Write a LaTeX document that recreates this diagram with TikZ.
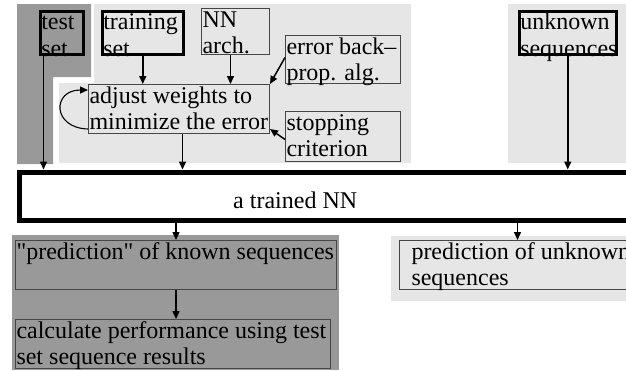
\documentclass[tikz,border=0pt]{standalone}
\usepackage{fontspec}
\setmainfont{Liberation Serif}[Ligatures=TeXOff]
\usetikzlibrary{arrows.meta}
\definecolor{darkbg}{RGB}{153,153,153}
\definecolor{lightbg}{RGB}{230,230,230}
\definecolor{boxline}{RGB}{70,70,70}
\newcommand{\boxtext}[3]{\parbox[t][#2pt][t]{#1pt}{\raggedright\strut #3}}
\tikzset{
  thinbox/.style={draw=boxline, line width=1pt, inner xsep=1pt, inner ysep=0pt, anchor=north west},
  thickbox/.style={thinbox, draw=black, line width=3.5pt},
  arr/.style={-{Triangle[length=8pt,width=7pt]}, line width=1.5pt},
}
\begin{document}
\begin{tikzpicture}[x=1pt, y=-1pt, font=\fontsize{24}{26.5}\selectfont]
      \useasboundingbox (0,0) rectangle (626,370);
      \clip (0,0) rectangle (626,370);
      \fill[darkbg] (17,4) -- (91,4) -- (91,77) -- (53,77) -- (53,164) -- (17,164) -- cycle;
      \fill[lightbg] (94,4) -- (411,4) -- (411,163) -- (59,163) -- (59,83) -- (94,83) -- cycle;
      \fill[lightbg] (508,4) rectangle (626,163);
      \fill[darkbg] (12,235) rectangle (339,370);
      \fill[lightbg] (391,236) rectangle (626,301);

      \node[thickbox] (test) at (38.5,9.5) {\boxtext{41}{43}{test\\set}};
      \node[thickbox] (train) at (100.5,9.5) {\boxtext{79}{43}{training\\set}};
      \node[thinbox] (arch) at (201,8) {\boxtext{66}{46}{NN\\arch.}};
      \node[thinbox] (error) at (285,35) {\boxtext{113}{48}{error back\textendash\\prop. alg.}};
      \node[thinbox] (adjust) at (88,84) {\boxtext{179}{49}{adjust weights to\\minimize the error}};
      \node[thinbox] (stop) at (285,111) {\boxtext{113}{50}{stopping\\criterion}};
      \node[thickbox] (unknown) at (517.5,9.5) {\boxtext{95}{43}{unknown\\sequences}};
      \node[draw, line width=5pt, inner sep=0pt, minimum width=640pt, minimum height=48pt, anchor=north west] (nn) at (16.5,169.5) {};
      \node[anchor=base west, inner sep=0pt] (nnlabel) at (233,208) {a trained NN};
      \node[thinbox] (known) at (15,240) {\boxtext{319}{49}{"prediction" of known sequences}};
      \node[thinbox] (calc) at (15,319) {\boxtext{313}{49}{calculate performance using test\\set sequence results}};
      \node[thinbox] (predunk) at (399,240) {\boxtext{239}{49}{\hspace*{11pt}prediction of unknown\\\hspace*{11pt}sequences}};

      \draw[arr] ([xshift=5pt]test.south west) -- ([xshift=5pt]test.south west |- nn.north);
      \draw[arr] (train.south) -- (train.south |- adjust.north);
      \draw[arr] ([xshift=-5pt]arch.south) -- ([xshift=-5pt]arch.south |- adjust.north);
      \draw[arr] ([yshift=2pt]error.west) -- (adjust.north east);
      \draw[arr] ([yshift=-3pt]stop.west) -- ([yshift=5pt]adjust.south east);
      \draw[arr, line width=1.1pt] ([yshift=5pt]adjust.south west) .. controls (52,128) and (52,90) .. ([yshift=-6pt]adjust.north west);
      \draw[arr] ([xshift=3.5pt]adjust.south) -- ([xshift=3.5pt]adjust.south |- nn.north);
      \draw[arr] (unknown.south) -- (unknown.south |- nn.north);
      \draw[arr] (known.north |- nn.south) -- (known.north);
      \draw[arr] ([xshift=-2.5pt]predunk.north |- nn.south) -- ([xshift=-2.5pt]predunk.north);
      \draw[arr] (known.south) -- (known.south |- calc.north);
    \end{tikzpicture}
\end{document}
